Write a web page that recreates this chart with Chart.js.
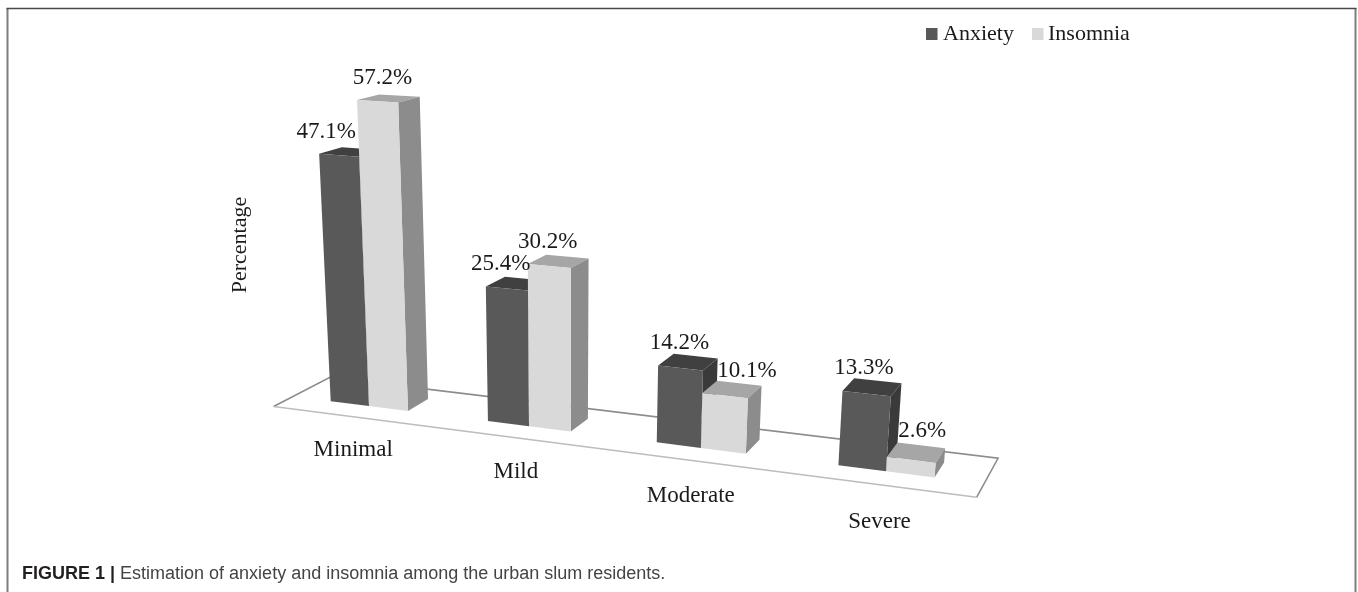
<!DOCTYPE html>
<html>
<head>
<meta charset="utf-8">
<style>html,body{margin:0;padding:0;background:#fff}canvas{display:block}</style>
<script src="https://cdn.jsdelivr.net/npm/chart.js@4"></script>
</head>
<body>
<canvas id="c" width="1358" height="592"></canvas>
<script>
const categories = ['Minimal', 'Mild', 'Moderate', 'Severe'];
const anxiety = [47.1, 25.4, 14.2, 13.3];
const insomnia = [57.2, 30.2, 10.1, 2.6];
const seriesNames = ['Anxiety', 'Insomnia'];
const axisTitle = 'Percentage';
const captionBold = 'FIGURE 1 |';
const captionText = 'Estimation of anxiety and insomnia among the urban slum residents.';

const serif = '"Liberation Serif"';
const sans = '"Liberation Sans"';
const faces = [
  {front: '#595959', top: '#404040', side: '#3a3a3a'},
  {front: '#d9d9d9', top: '#a6a6a6', side: '#8c8c8c'}
];
// label nudges relative to the projected top-centre of each bar, per series / category
const nudges = [
  [[-13, -23], [-6, -24], [-1, -25], [-2.5, -26]],
  [[5, -23], [-1.5, -24], [22, -25], [11, -29]]
];

// Oblique perspective camera: category position s, value v, depth d -> canvas
function project(s, v, d) {
  const w = 1 - 0.03455 * s - 0.001 * v + 0.0222 * d;
  return {
    x: (369 + 141.73 * s - 0.567 * v + 29.4 * d) / w,
    y: (406 + 5.5 * s - 5.45 * v - 3 * d) / w
  };
}

function poly(ctx, pts, fill) {
  ctx.beginPath();
  pts.forEach((p, i) => i ? ctx.lineTo(p.x, p.y) : ctx.moveTo(p.x, p.y));
  ctx.closePath();
  ctx.fillStyle = fill;
  ctx.fill();
}

const scene3d = {
  id: 'scene3d',
  beforeDatasetsDraw(chart) {
    const ctx = chart.ctx;
    const xs = chart.scales.x, ys = chart.scales.y;
    const p0 = xs.getPixelForValue(0), p1 = xs.getPixelForValue(1);
    const toS = px => (px - p0) / (p1 - p0);

    ctx.save();
    // frame
    ctx.strokeStyle = '#7d7d7d';
    ctx.lineWidth = 2;
    ctx.beginPath();
    ctx.moveTo(7.5, 592); ctx.lineTo(7.5, 8);
    ctx.moveTo(1355.5, 8); ctx.lineTo(1355.5, 592);
    ctx.stroke();
    ctx.strokeStyle = '#4a4a4a';
    ctx.lineWidth = 1.5;
    ctx.beginPath();
    ctx.moveTo(6.5, 8.5); ctx.lineTo(1356.5, 8.5);
    ctx.stroke();

    // floor
    const sL = -0.5, sR = 3.5, dF = -0.85, dB = 1.7;
    const fl = project(sL, 0, dF), fr = project(sR, 0, dF), br = project(sR, 0, dB), bl = project(sL, 0, dB);
    poly(ctx, [fl, fr, br, bl], '#ffffff');
    ctx.lineWidth = 1.6;
    ctx.strokeStyle = '#8c8c8c';
    ctx.beginPath();
    ctx.moveTo(fl.x, fl.y); ctx.lineTo(bl.x, bl.y); ctx.lineTo(br.x, br.y); ctx.lineTo(fr.x, fr.y);
    ctx.stroke();
    ctx.strokeStyle = '#bdbdbd';
    ctx.beginPath();
    ctx.moveTo(fl.x, fl.y); ctx.lineTo(fr.x, fr.y);
    ctx.stroke();

    // bars, read from the chart's own bar elements and scales
    const metas = chart.data.datasets.map((_, i) => chart.getDatasetMeta(i));
    chart.data.labels.forEach((_, ci) => {
      metas.forEach((meta, di) => {
        const el = meta.data[ci];
        const sa = toS(el.x - el.width / 2), sb = toS(el.x + el.width / 2);
        const v = ys.getValueForPixel(el.y), f = faces[di];
        poly(ctx, [project(sa, v, 0), project(sb, v, 0), project(sb, v, 1), project(sa, v, 1)], f.top);
        poly(ctx, [project(sb, 0, 0), project(sb, v, 0), project(sb, v, 1), project(sb, 0, 1)], f.side);
        poly(ctx, [project(sa, 0, 0), project(sb, 0, 0), project(sb, v, 0), project(sa, v, 0)], f.front);
      });
    });

    // value labels
    ctx.fillStyle = '#1a1a1a';
    ctx.textAlign = 'center';
    ctx.textBaseline = 'middle';
    ctx.font = '23px ' + serif;
    metas.forEach((meta, di) => {
      meta.data.forEach((el, ci) => {
        const v = chart.data.datasets[di].data[ci];
        const a = project(toS(el.x), v, 0);
        const n = nudges[di][ci];
        ctx.fillText(v.toFixed(1) + '%', a.x + n[0], a.y + n[1]);
      });
    });

    // category labels, on the floor plane just ahead of the bars
    chart.data.labels.forEach((lab, i) => {
      const a = project(i * 1.008, -6.7, -0.8);
      ctx.fillText(lab, a.x, a.y);
    });

    // axis title
    ctx.save();
    ctx.translate(240, 245);
    ctx.rotate(-Math.PI / 2);
    ctx.font = '22px ' + serif;
    ctx.fillText(axisTitle, 0, 0);
    ctx.restore();

    // legend
    ctx.textAlign = 'left';
    ctx.font = '22px ' + serif;
    const lx = [926, 1032], tx = [943, 1048];
    chart.data.datasets.forEach((ds, i) => {
      ctx.fillStyle = ds.backgroundColor;
      ctx.fillRect(lx[i], 28, 11.5, 12);
      ctx.fillStyle = '#1a1a1a';
      ctx.fillText(ds.label, tx[i], 34);
    });

    // caption
    ctx.textBaseline = 'alphabetic';
    ctx.fillStyle = '#231f20';
    ctx.font = 'bold 18px ' + sans;
    ctx.fillText(captionBold, 22, 579);
    const bw = ctx.measureText(captionBold + ' ').width;
    ctx.fillStyle = '#444444';
    ctx.font = '18px ' + sans;
    ctx.fillText(captionText, 22 + bw, 579);
    ctx.restore();
    return false;
  }
};

new Chart(document.getElementById('c').getContext('2d'), {
  type: 'bar',
  data: {
    labels: categories,
    datasets: [
      {label: seriesNames[0], data: anxiety, backgroundColor: faces[0].front},
      {label: seriesNames[1], data: insomnia, backgroundColor: faces[1].front}
    ]
  },
  plugins: [scene3d],
  options: {
    responsive: false,
    animation: false,
    layout: {padding: {left: 300, right: 300, top: 60, bottom: 60}},
    datasets: {bar: {categoryPercentage: 0.5, barPercentage: 1}},
    scales: {
      x: {display: false},
      y: {display: false, min: 0, max: 60}
    },
    plugins: {legend: {display: false}, tooltip: {enabled: false}, title: {display: false}}
  }
});
</script>
</body>
</html>
